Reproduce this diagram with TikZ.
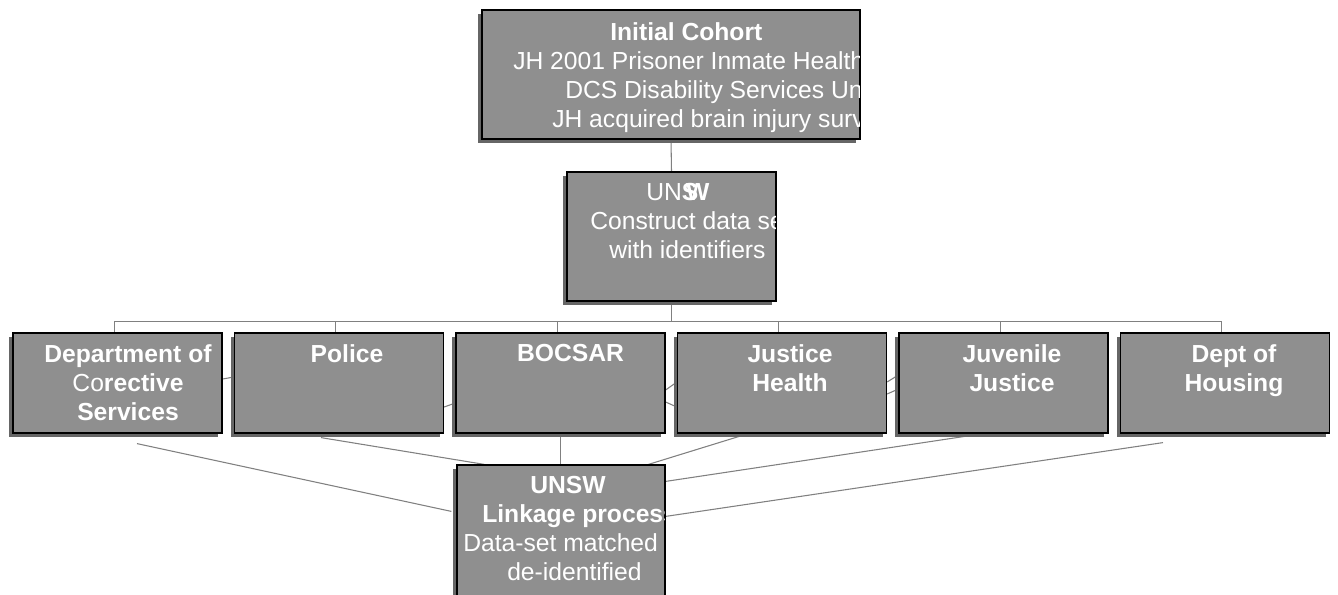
\documentclass[tikz,border=0pt]{standalone}
\usepackage{fontspec}
\setmainfont{Liberation Sans}
\usetikzlibrary{calc,positioning,shadows,backgrounds}
\definecolor{boxgray}{HTML}{8F8F8F}
\definecolor{shadegray}{HTML}{666666}
\definecolor{linkgray}{HTML}{808080}

\begin{document}
\begin{tikzpicture}[x=0.75pt, y=-0.75pt,
    font=\fontsize{18.5}{21.75}\selectfont,
    unit/.style={draw=black, line width=0.9pt, fill=boxgray, inner sep=0pt,
                 drop shadow={shadow xshift=-3pt, shadow yshift=-3pt,
                              fill=shadegray, opacity=1}},
    agency/.style={unit, minimum width=156.75pt, minimum height=75pt},
    caption/.style={text=white, inner sep=0pt, align=center, anchor=north},
    link/.style={draw=linkgray, line width=0.8pt}]
  \useasboundingbox (0,0) rectangle (1338,594);
  \clip (0,0) rectangle (1338,594);

  % cohort and data set
  \node[unit, minimum width=283.5pt, minimum height=96.75pt] (cohort) at (671,74.5) {};
  \node[unit, minimum width=156.75pt, minimum height=96.75pt] (build) at (671.5,236.5) {};
  \begin{scope}
    \clip ([shift={(0.5pt,0.5pt)}]cohort.south west) rectangle ([shift={(-0.5pt,-0.5pt)}]cohort.north east);
    \node[caption, align=left, anchor=north west] (cohort-txt) at (513,22)
      {\hspace*{72.75pt}\textbf{Initial Cohort}\\
       JH 2001 Prisoner Inmate Health\\
       \hspace*{39pt}DCS Disability Services Unit\\
       \hspace*{29.25pt}JH acquired brain injury survey};
  \end{scope}
  \begin{scope}
    \clip ([shift={(0.5pt,0.5pt)}]build.south west) rectangle ([shift={(-0.5pt,-0.5pt)}]build.north east);
    \node[caption, align=left, anchor=north west] (build-txt) at (590,183)
      {\hspace*{42pt}UN\textbf{S\kern-0.5em W}\\
       Construct data set\\
       \hspace*{14.25pt}with identifiers};
  \end{scope}

  % agencies
  \foreach \name/\cx/\dx/\words in {
      dcs/117.5/10.5/{\textbf{Department of}\\Co\textbf{rective}\\\textbf{Services}},
      police/339/8/{\textbf{Police}},
      bocsar/560.5/10/{\textbf{BOCSAR}},
      health/782/8/{\textbf{Justice}\\\textbf{Health}},
      juvenile/1003.5/8.5/{\textbf{Juvenile}\\\textbf{Justice}},
      housing/1225/9/{\textbf{Dept of}\\\textbf{Housing}}} {
    \node[agency] (\name) at (\cx,383) {};
    \node[caption] (\name-txt) at (\cx+\dx,344) {\words};
  }

  % linkage
  \node[unit, minimum width=156pt, minimum height=112.5pt] (linkage) at (561,540) {};
  \begin{scope}
    \clip ([shift={(0.5pt,0.5pt)}]linkage.south west) rectangle ([shift={(-0.5pt,-0.5pt)}]linkage.north east);
    \node[caption, align=left, anchor=north west] (linkage-txt) at (463,476)
      {\hspace*{50.25pt}\textbf{UNSW}\\
       \hspace*{14.25pt}\textbf{Linkage process}\\
       Data-set matched\\
       \hspace*{33pt}de-identified};
  \end{scope}

  \begin{scope}[on background layer]
    \draw[link] (cohort.south) -- (build.north);
    \coordinate (bus) at ($(build.south)+(0,20)$);
    \draw[link] (build.south) -- (bus);
    \foreach \name in {dcs,police,bocsar,health,juvenile,housing}
      \draw[link] (bus) -| ([xshift=-2.5pt]\name.north);
    % lines behind the row
    \draw[link] ([yshift=3pt]dcs.east) -- ([yshift=4.5pt]police.west);
    \draw[link] ([yshift=-18pt]police.east) -- ([yshift=-15pt]bocsar.west);
    \draw[link] ([yshift=-5.25pt]bocsar.east) -- ([yshift=0.75pt]health.west);
    \draw[link] ([yshift=-14.25pt]bocsar.east) -- ([yshift=-18pt]health.west);
    \draw[link] ([yshift=0.75pt]health.east) -- ([yshift=6pt]juvenile.west);
    \draw[link] ([yshift=-8.25pt]health.east) -- ([yshift=-4.5pt]juvenile.west);
    % into the linkage
    \draw[link] ($(dcs.south)+(19.5,10)$) -- ($(linkage.north west)+(-5,47)$);
    \draw[link] ($(police.south)+(-18,4)$) -- ($(linkage.north west)+(28,0)$);
    \draw[link] (bocsar.south) -- (bocsar.south |- linkage.north);
    \draw[link] ($(health.south)+(-37,1)$) -- ($(linkage.north west)+(192,0)$);
    \draw[link] ($(juvenile.south)+(-33.5,2)$) -- ($(linkage.north east)+(0,17)$);
    \draw[link] ($(housing.south)+(-62,9)$) -- ($(linkage.north east)+(0,52)$);
  \end{scope}
\end{tikzpicture}
\end{document}
